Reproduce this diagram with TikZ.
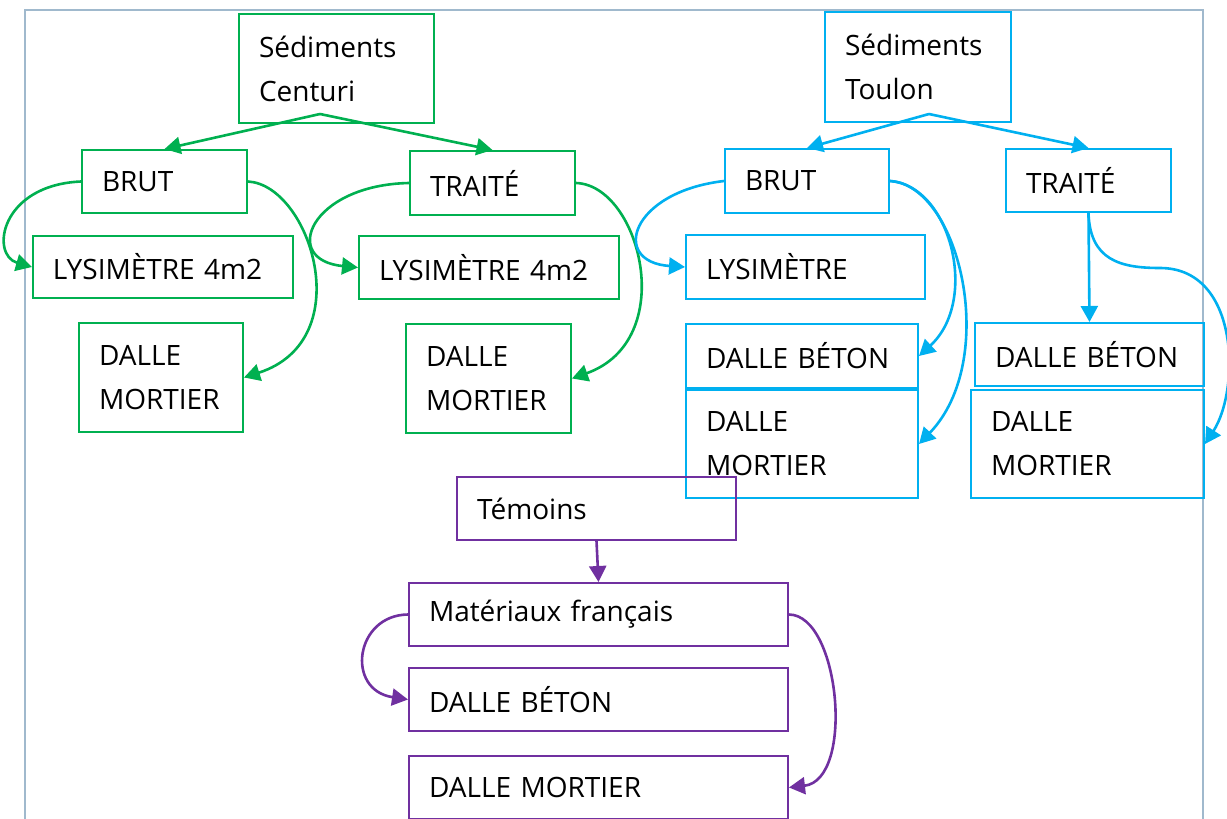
\documentclass[tikz,border=0pt]{standalone}
\usepackage{fontspec}
\setmainfont{Open Sans}
\usetikzlibrary{arrows.meta}

\definecolor{vert}{RGB}{0,176,80}
\definecolor{bleu}{RGB}{0,176,240}
\definecolor{violet}{RGB}{112,48,160}
\definecolor{cadre}{RGB}{160,185,205}

\begin{document}
\begin{tikzpicture}[%
      x=0.5pt, y=-0.5pt,
      boite/.style={draw, line width=1pt, anchor=north west, align=left,
        inner xsep=10pt, inner ysep=0pt, text=black,
        font=\fontsize{14}{22}\selectfont},
      boitev/.style={boite, draw=vert},
      boiteb/.style={boite, draw=bleu},
      boitep/.style={boite, draw=violet},
      fleche/.style={line width=1.3pt, -{Triangle[length=8pt,width=8.5pt]}},
      ]
      \useasboundingbox (0,0) rectangle (1227,819);
      \draw [color=cadre, line width=0.8pt] (25,819) -- (25,10) -- (1203,10) -- (1203,819);

      % Sediments Centuri
      \node [boitev, text width=77.5pt, minimum height=54.5pt] (sc) at (238,13) {Sédiments\\Centuri};
      \node [boitev, text width=62.5pt, minimum height=31.5pt] (gbrut) at (81,149) {BRUT};
      \node [boitev, text width=62.5pt, minimum height=32pt] (gtraite) at (409,150) {TRAITÉ};
      \node [boitev, text width=110pt, minimum height=31pt] (glys1) at (32,235) {LYSIMÈTRE 4m2};
      \node [boitev, text width=110pt, minimum height=31.5pt] (glys2) at (358,235) {LYSIMÈTRE 4m2};
      \node [boitev, text width=62pt, minimum height=54.5pt] (gdm1) at (78,322) {DALLE\\MORTIER};
      \node [boitev, text width=62.5pt, minimum height=54.5pt] (gdm2) at (405,323) {DALLE\\MORTIER};
      \coordinate (sc-o) at (320,114);

      \draw [fleche, color=vert] (sc-o) -- (gbrut.north);
      \draw [fleche, color=vert] (sc-o) -- (gtraite.north);
      \draw [fleche, color=vert] (gbrut.west) .. controls (0,185) and (-10,255) .. (glys1.west);
      \draw [fleche, color=vert] (gbrut.east) .. controls (310,185) and (360,340) .. (gdm1.east);
      \draw [fleche, color=vert] (gtraite.west) .. controls (310,185) and (280,260) .. (glys2.west);
      \draw [fleche, color=vert] (gtraite.east) .. controls (640,185) and (680,340) .. (gdm2.east);

      % Sediments Toulon
      \node [boiteb, text width=73pt, minimum height=55pt] (st) at (824,11) {Sédiments\\Toulon};
      \node [boiteb, text width=62pt, minimum height=32pt] (bbrut) at (724,148) {BRUT};
      \node [boiteb, text width=62.5pt, minimum height=31.5pt] (btraite) at (1005,148) {TRAITÉ};
      \node [boiteb, text width=99.5pt, minimum height=32pt] (blys) at (685,234) {LYSIMÈTRE};
      \node [boiteb, text width=96pt, minimum height=32pt] (bdb1) at (685,323) {DALLE BÉTON};
      \node [boiteb, text width=96pt, minimum height=54pt] (bdm1) at (685,389) {DALLE\\MORTIER};
      \node [boiteb, text width=94.5pt, minimum height=31.5pt] (bdb2) at (974,322) {DALLE BÉTON};
      \node [boiteb, text width=96.5pt, minimum height=54pt] (bdm2) at (970,389) {DALLE\\MORTIER};
      \coordinate (st-o) at (929,114);

      \draw [fleche, color=bleu] (st-o) -- (bbrut.north);
      \draw [fleche, color=bleu] (st-o) -- (btraite.north);
      \draw [fleche, color=bleu] (bbrut.west) .. controls (630,192) and (610,262) .. (blys.west);
      \draw [fleche, color=bleu] (bbrut.east) .. controls (950,185) and (980,300) .. (bdb1.east);
      \draw [fleche, color=bleu] (bbrut.east) .. controls (960,185) and (1000,360) .. (bdm1.east);
      \draw [fleche, color=bleu] (btraite.south) -- (bdb2.north);
      \draw [fleche, color=bleu] (btraite.south) .. controls (1090,260) and (1120,268) .. (1160,268)
            .. controls (1240,268) and (1240,390) .. (bdm2.east);

      % Temoins
      \node [boitep, text width=119.5pt, minimum height=31.5pt] (tem) at (456,476) {Témoins};
      \node [boitep, text width=169.5pt, minimum height=31.5pt] (mf) at (408,582) {Matériaux français};
      \node [boitep, text width=169.5pt, minimum height=31.5pt] (pdb) at (408,667) {DALLE BÉTON};
      \node [boitep, text width=169.5pt, minimum height=31.5pt] (pdm) at (408,755) {DALLE MORTIER};

      \draw [fleche, color=violet] (tem.south) -- (mf.north);
      \draw [fleche, color=violet] (mf.west) .. controls (355,615) and (345,690) .. (pdb.west);
      \draw [fleche, color=violet] (mf.east) .. controls (840,615) and (855,780) .. (pdm.east);
      \end{tikzpicture}
\end{document}
